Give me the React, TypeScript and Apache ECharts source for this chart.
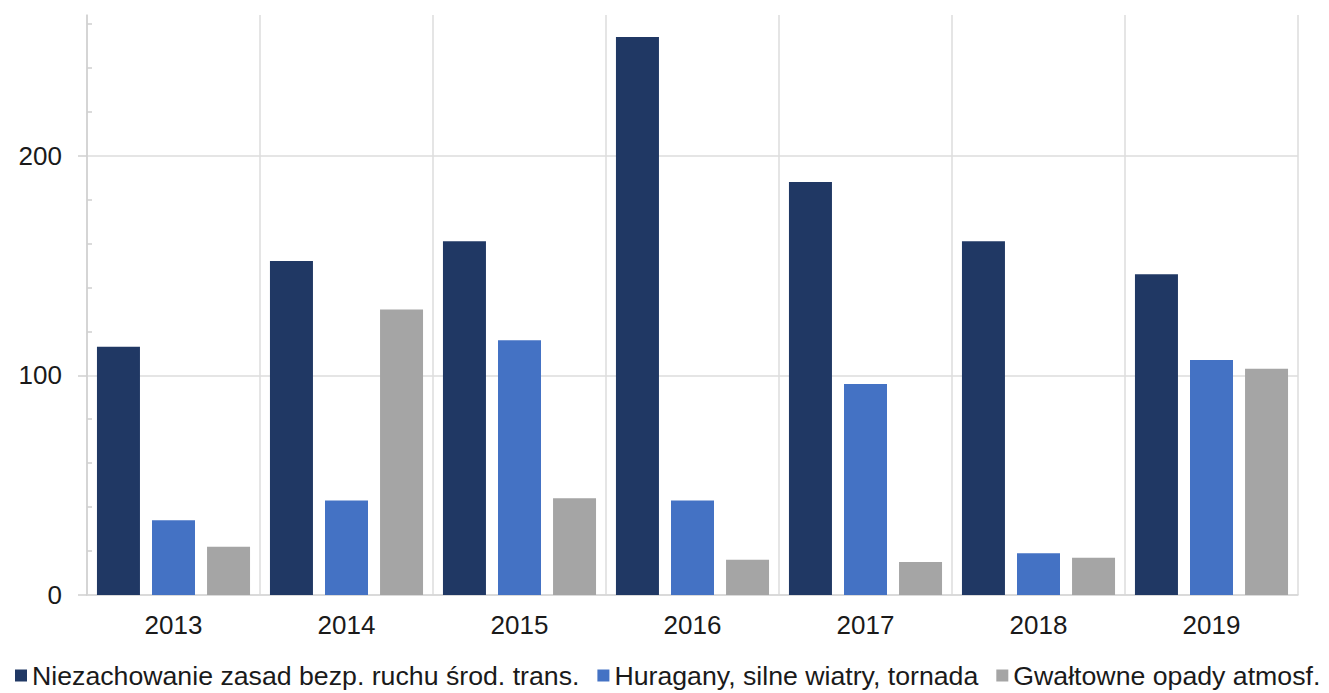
import React, { useEffect, useRef } from "react";
import * as echarts from "echarts";

const years = ["2013", "2014", "2015", "2016", "2017", "2018", "2019"];
const seriesNames = [
  "Niezachowanie zasad bezp. ruchu środ. trans.",
  "Huragany, silne wiatry, tornada",
  "Gwałtowne opady atmosf.",
];
const traffic = [113, 152, 161, 254, 188, 161, 146];
const winds = [34, 43, 116, 43, 96, 19, 107];
const rain = [22, 130, 44, 16, 15, 17, 103];
const colors = ["#203864", "#4472c4", "#a5a5a5"];
const majorTicks = [0, 100, 200];
const minorTicks = [20, 40, 60, 80, 120, 140, 160, 180, 220, 240, 260];
const yMax = 264;

export default function App() {
  const ref = useRef<HTMLDivElement>(null);
  useEffect(() => {
    if (!ref.current) return;
    const chart = echarts.init(ref.current, null, { renderer: "svg" });
    const font = "'Liberation Sans', Arial, Helvetica, sans-serif";
    const values = [traffic, winds, rain];
    chart.setOption({
      animation: false,
      backgroundColor: "#ffffff",
      textStyle: { fontFamily: font },
      grid: { left: 87, right: 31, top: 15, bottom: 98, containLabel: false },
      legend: {
        left: 15,
        top: 662,
        width: 1314,
        padding: 0,
        icon: "rect",
        itemWidth: 12,
        itemHeight: 12,
        itemGap: 18,
        textStyle: { fontSize: 26.7, color: "#1a1a1a", fontFamily: font, padding: [0, 0, 0, 0] },
        data: seriesNames,
      },
      xAxis: {
        type: "category",
        data: years,
        boundaryGap: true,
        axisLine: { show: true, lineStyle: { color: "#d6d6d6", width: 1.5 } },
        axisTick: { show: false },
        splitLine: { show: true, lineStyle: { color: "#dddddd", width: 1.5 } },
        axisLabel: { fontSize: 26, color: "#1a1a1a", margin: 17, fontFamily: font },
      },
      yAxis: [
        {
          type: "value",
          min: 0,
          max: yMax,
          interval: 100,
          position: "left",
          axisLine: { show: true, lineStyle: { color: "#cfcfcf", width: 1.5 } },
          axisTick: {
            show: true,
            inside: false,
            length: 9,
            customValues: majorTicks,
            lineStyle: { color: "#cfcfcf", width: 1.5 },
          },
          axisLabel: {
            fontSize: 26,
            color: "#1a1a1a",
            margin: 25,
            fontFamily: font,
            customValues: majorTicks,
          },
          splitLine: {
            show: true,
            lineStyle: { color: "#dddddd", width: 1.5 },
          },
        },
        {
          type: "value",
          min: 0,
          max: yMax,
          interval: 20,
          position: "left",
          offset: 0,
          axisLine: { show: false },
          axisLabel: { show: false },
          splitLine: { show: false },
          axisTick: {
            show: true,
            inside: true,
            length: 5,
            customValues: minorTicks,
            lineStyle: { color: "#cfcfcf", width: 1.5 },
          },
        },
      ],
      series: seriesNames.map((name, i) => ({
        name,
        type: "bar",
        yAxisIndex: 0,
        data: values[i],
        barWidth: 43,
        barGap: "28%",
        itemStyle: { color: colors[i] },
      })),
    });
    return () => chart.dispose();
  }, []);
  return (
    <div
      ref={ref}
      style={{ position: "fixed", left: 0, top: 0, width: 1329, height: 693, background: "#fff" }}
    />
  );
}
